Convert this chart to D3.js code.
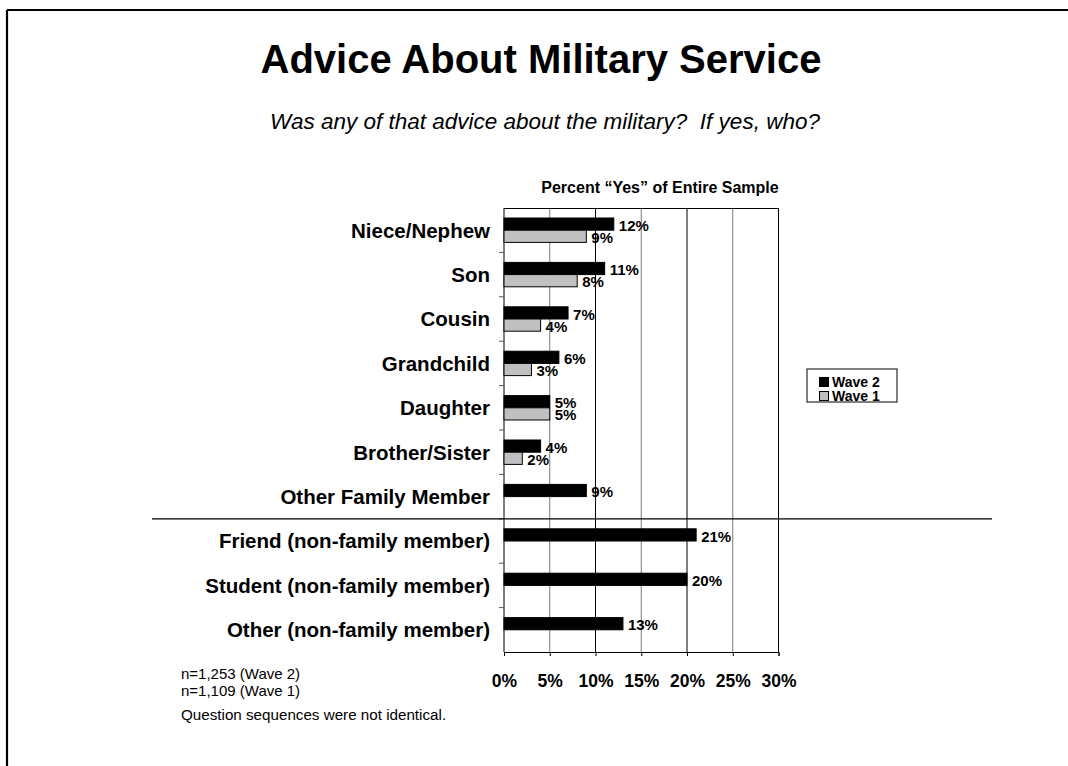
<!DOCTYPE html>
<html>
<head>
<meta charset="utf-8">
<script src="https://cdn.jsdelivr.net/npm/d3@7"></script>
<style>
  html, body { margin: 0; padding: 0; background: #fff; }
  svg { display: block; font-family: Arial, "Liberation Sans", sans-serif; }
</style>
</head>
<body>
<svg id="chart" width="1068" height="766"></svg>
<script>
// Survey responses: who was the advice about military service given to
const categories = [
  "Niece/Nephew", "Son", "Cousin", "Grandchild", "Daughter", "Brother/Sister",
  "Other Family Member", "Friend (non-family member)",
  "Student (non-family member)", "Other (non-family member)"
];
const wave2 = [12, 11, 7, 6, 5, 4, 9, 21, 20, 13];
const wave1 = [9, 8, 4, 3, 5, 2, null, null, null, null];
const seriesNames = ["Wave 2", "Wave 1"];
const xTicks = [0, 5, 10, 15, 20, 25, 30];
const notes = ["n=1,253 (Wave 2)", "n=1,109 (Wave 1)"];
const footnote = "Question sequences were not identical.";

const svg = d3.select("#chart");
const W = 1068, H = 766;

// page frame (top and left edges)
svg.append("line").attr("x1", 7).attr("x2", W).attr("y1", 10).attr("y2", 10)
  .attr("stroke", "#000").attr("stroke-width", 2.2);
svg.append("line").attr("x1", 7).attr("x2", 7).attr("y1", 10).attr("y2", H)
  .attr("stroke", "#000").attr("stroke-width", 2.2);

// titles
svg.append("text").attr("x", 541).attr("y", 73).attr("text-anchor", "middle")
  .attr("font-size", 40).attr("font-weight", "bold")
  .text("Advice About Military Service");
svg.append("text").attr("x", 545).attr("y", 129).attr("text-anchor", "middle")
  .attr("font-size", 22.5).attr("font-style", "italic")
  .text("Was any of that advice about the military?\u00a0 If yes, who?");

const plot = { left: 504, right: 778.5, top: 208, bottom: 652 };

const x = d3.scaleLinear().domain([0, 30]).range([plot.left, plot.right]);
const y = d3.scaleBand().domain(categories).range([plot.top, plot.bottom]).padding(0);
const sub = d3.scaleBand().domain(seriesNames).range([0, y.bandwidth()])
  .paddingInner(0).paddingOuter(0.82);

svg.append("text").attr("x", 660).attr("y", 193).attr("text-anchor", "middle")
  .attr("font-size", 16).attr("font-weight", "bold")
  .text("Percent \u201cYes\u201d of Entire Sample");

// vertical gridlines
const g = svg.append("g");
g.selectAll("line.grid").data(xTicks.slice(1)).join("line")
  .attr("class", "grid")
  .attr("x1", d => x(d)).attr("x2", d => x(d))
  .attr("y1", plot.top).attr("y2", plot.bottom)
  .attr("stroke", (d, i) => i % 2 === 0 ? "#7a7a7a" : "#000")
  .attr("stroke-width", 1);
// top edge of plot
g.append("line").attr("x1", plot.left).attr("x2", x(30))
  .attr("y1", plot.top + 0.5).attr("y2", plot.top + 0.5).attr("stroke", "#000");

// bottom axis
const xAxis = d3.axisBottom(x).tickValues(xTicks).tickSize(4).tickPadding(14)
  .tickFormat(d => d + "%");
const gx = svg.append("g").attr("transform", `translate(0,${plot.bottom})`).call(xAxis);
gx.select(".domain").attr("stroke", "#000");
gx.selectAll(".tick line").attr("stroke", "#000");
gx.selectAll(".tick text").attr("font-size", 17.5).attr("font-weight", "bold")
  .attr("font-family", "Arial, 'Liberation Sans', sans-serif").attr("fill", "#000")
  .attr("dy", "0").attr("y", 35);

// left axis: line with ticks at category boundaries
svg.append("line").attr("x1", plot.left).attr("x2", plot.left)
  .attr("y1", plot.top).attr("y2", plot.bottom).attr("stroke", "#000");
svg.selectAll("line.ytick").data(categories.slice(1)).join("line")
  .attr("class", "ytick")
  .attr("x1", plot.left - 5).attr("x2", plot.left)
  .attr("y1", d => y(d)).attr("y2", d => y(d))
  .attr("stroke", "#555");

// category labels
svg.selectAll("text.cat").data(categories).join("text")
  .attr("class", "cat")
  .attr("x", 490).attr("y", d => y(d) + y.bandwidth() / 2)
  .attr("dy", "0.36em").attr("text-anchor", "end")
  .attr("font-size", 20.5).attr("font-weight", "bold")
  .text(d => d);

// bars
const rows = categories.map((c, i) => ({ c, v: [wave2[i], wave1[i]] }));
const fills = { "Wave 2": "#000", "Wave 1": "#c0c0c0" };
const barData = [];
rows.forEach(r => seriesNames.forEach((s, k) => {
  if (r.v[k] != null) barData.push({ c: r.c, s, v: r.v[k] });
}));

svg.selectAll("rect.bar").data(barData).join("rect")
  .attr("class", "bar")
  .attr("x", plot.left)
  .attr("y", d => y(d.c) + sub(d.s))
  .attr("width", d => x(d.v) - plot.left)
  .attr("height", sub.bandwidth())
  .attr("fill", d => fills[d.s])
  .attr("stroke", "#000").attr("stroke-width", 1);

svg.selectAll("text.val").data(barData).join("text")
  .attr("class", "val")
  .attr("x", d => x(d.v) + 5)
  .attr("y", d => y(d.c) + sub(d.s) + sub.bandwidth() + 0.5)
  .attr("font-size", 15).attr("font-weight", "bold")
  .text(d => d.v + "%");

// separator between family and non-family groups
svg.append("line").attr("x1", 152).attr("x2", 992)
  .attr("y1", y(categories[7])).attr("y2", y(categories[7]))
  .attr("stroke", "#000").attr("stroke-width", 1.2);

// legend
const lg = svg.append("g").attr("transform", "translate(807,369)");
lg.append("rect").attr("width", 90).attr("height", 33)
  .attr("fill", "#fff").attr("stroke", "#000");
seriesNames.forEach((s, i) => {
  lg.append("rect").attr("x", 12.5).attr("y", 8.5 + i * 14)
    .attr("width", 9).attr("height", 9)
    .attr("fill", fills[s]).attr("stroke", "#000");
  lg.append("text").attr("x", 25).attr("y", 18 + i * 14)
    .attr("font-size", 14).attr("font-weight", "bold").text(s);
});

// sample notes
svg.selectAll("text.note").data(notes).join("text")
  .attr("class", "note")
  .attr("x", 181).attr("y", (d, i) => 679 + i * 16.5)
  .attr("font-size", 15).text(d => d);
svg.append("text").attr("x", 181).attr("y", 720)
  .attr("font-size", 15.2).text(footnote);
</script>
</body>
</html>
